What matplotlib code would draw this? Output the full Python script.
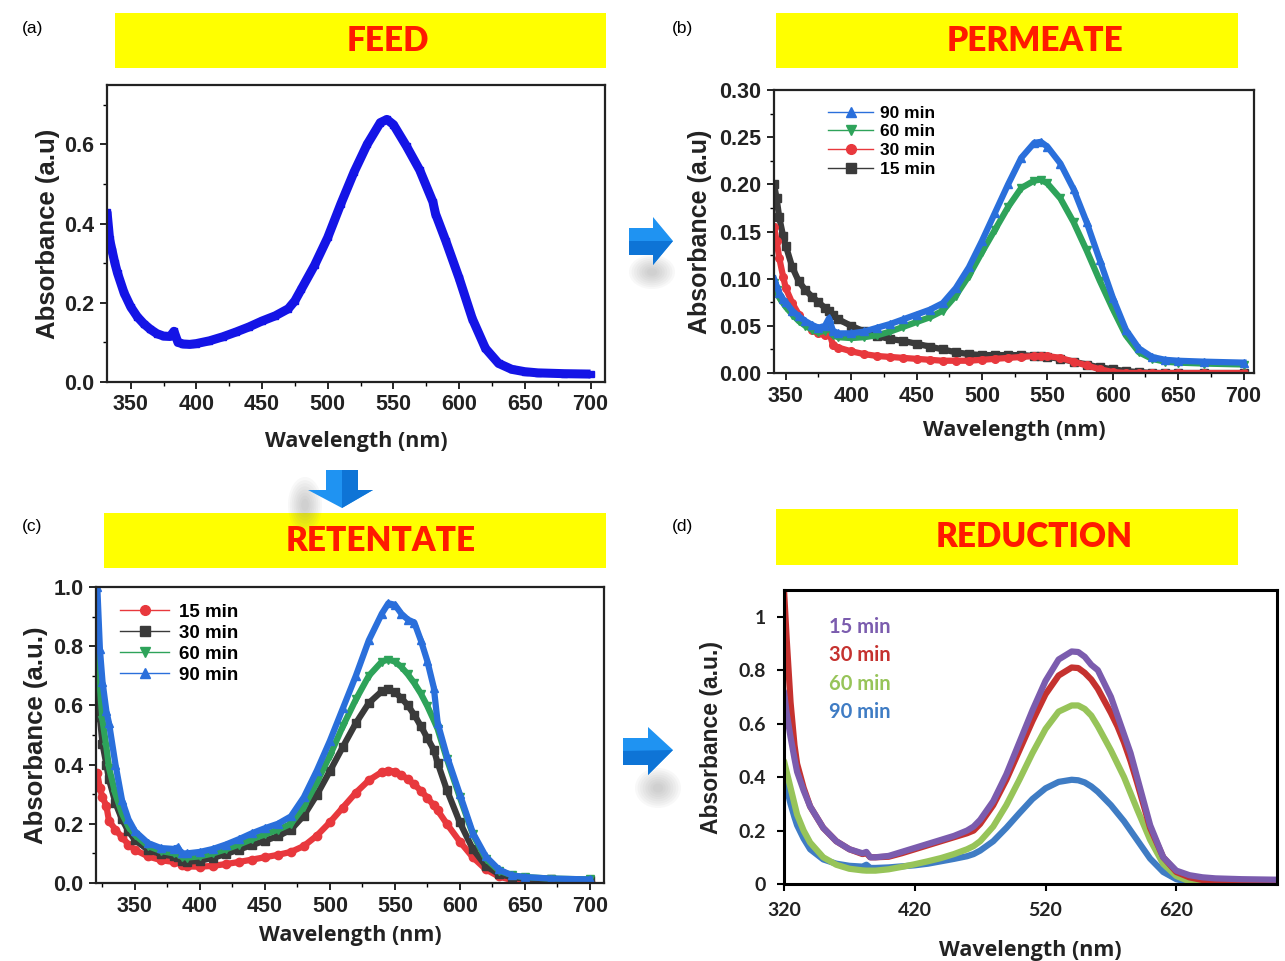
import matplotlib
matplotlib.use("Agg")
import matplotlib.pyplot as plt
from matplotlib.patches import Polygon, Rectangle, Ellipse
from matplotlib.lines import Line2D
from matplotlib.ticker import MultipleLocator, FormatStrFormatter, FuncFormatter
from matplotlib.transforms import Affine2D

# ---- UV-vis spectra (wavelength in nm, absorbance in a.u.) ----
# (a) feed
wl_feed = [332, 334, 336, 338, 340, 345, 350, 355, 360, 365, 370, 375, 380,
           383, 386, 390, 395, 400, 410, 420, 430, 440, 450, 460, 470, 475,
           480, 490, 500, 510, 520, 530, 540, 545, 550, 560, 570, 580, 582,
           590, 600, 610, 620, 630, 640, 650, 660, 680, 700]
abs_feed = [0.43, 0.36, 0.33, 0.30, 0.275, 0.225, 0.19, 0.165, 0.147, 0.133,
            0.122, 0.116, 0.115, 0.128, 0.100, 0.096, 0.095, 0.097, 0.104,
            0.114, 0.126, 0.139, 0.154, 0.167, 0.185, 0.205, 0.235, 0.295,
            0.365, 0.450, 0.530, 0.600, 0.655, 0.663, 0.650, 0.595, 0.535,
            0.455, 0.425, 0.355, 0.262, 0.160, 0.085, 0.047, 0.032, 0.026,
            0.023, 0.021, 0.020]

# (b) permeate
wl_perm = [341, 343, 345, 348, 350, 355, 360, 365, 370, 375, 380, 383, 386,
           390, 400, 410, 420, 430, 440, 450, 460, 470, 480, 490, 500, 510,
           520, 530, 540, 545, 550, 560, 570, 580, 590, 600, 610, 620, 630,
           640, 650, 670, 700]
perm_90 = [0.100, 0.092, 0.085, 0.078, 0.075, 0.066, 0.060, 0.055, 0.051,
           0.048, 0.050, 0.058, 0.045, 0.042, 0.042, 0.044, 0.048, 0.052,
           0.057, 0.062, 0.067, 0.074, 0.090, 0.112, 0.140, 0.170, 0.200,
           0.228, 0.244, 0.245, 0.240, 0.222, 0.195, 0.160, 0.120, 0.080,
           0.046, 0.026, 0.017, 0.014, 0.013, 0.012, 0.011]
perm_60 = [0.095, 0.088, 0.080, 0.074, 0.070, 0.062, 0.055, 0.050, 0.046,
           0.043, 0.045, 0.050, 0.040, 0.038, 0.037, 0.038, 0.040, 0.044,
           0.049, 0.054, 0.059, 0.066, 0.082, 0.103, 0.128, 0.152, 0.176,
           0.196, 0.204, 0.205, 0.201, 0.185, 0.160, 0.130, 0.098, 0.068,
           0.040, 0.022, 0.015, 0.012, 0.011, 0.010, 0.009]
perm_30 = [0.155, 0.140, 0.122, 0.102, 0.090, 0.074, 0.062, 0.053, 0.046,
           0.042, 0.040, 0.044, 0.030, 0.027, 0.023, 0.020, 0.018, 0.017,
           0.016, 0.015, 0.014, 0.013, 0.013, 0.013, 0.014, 0.015, 0.016,
           0.017, 0.018, 0.018, 0.018, 0.016, 0.012, 0.008, 0.004, 0.001,
           0.0, 0.0, 0.0, 0.0, 0.0, 0.0, 0.0]
perm_15 = [0.200, 0.185, 0.165, 0.145, 0.135, 0.112, 0.097, 0.088, 0.081,
           0.075, 0.069, 0.066, 0.062, 0.057, 0.050, 0.044, 0.039, 0.036,
           0.034, 0.031, 0.028, 0.025, 0.022, 0.020, 0.019, 0.019, 0.019,
           0.019, 0.018, 0.018, 0.017, 0.015, 0.012, 0.009, 0.006, 0.004,
           0.002, 0.001, 0.0, 0.0, 0.0, 0.0, 0.0]

# (c) retentate
wl_ret = [321, 323, 325, 328, 330, 335, 340, 345, 350, 360, 370, 380, 383,
          386, 390, 400, 410, 420, 430, 440, 450, 460, 470, 480, 490, 500,
          510, 520, 530, 540, 545, 550, 555, 560, 565, 570, 575, 580, 583,
          590, 600, 610, 620, 630, 640, 650, 670, 700]
ret_15 = [0.37, 0.32, 0.29, 0.26, 0.21, 0.18, 0.155, 0.13, 0.112, 0.090,
          0.077, 0.071, 0.075, 0.060, 0.056, 0.055, 0.058, 0.064, 0.071,
          0.079, 0.087, 0.095, 0.105, 0.125, 0.160, 0.205, 0.255, 0.305,
          0.347, 0.375, 0.380, 0.376, 0.366, 0.350, 0.333, 0.312, 0.288,
          0.262, 0.245, 0.200, 0.140, 0.087, 0.046, 0.022, 0.010, 0.005,
          0.003, 0.002]
ret_30 = [0.70, 0.56, 0.47, 0.40, 0.35, 0.27, 0.215, 0.175, 0.145, 0.112,
          0.097, 0.090, 0.088, 0.075, 0.072, 0.075, 0.085, 0.098, 0.113,
          0.128, 0.143, 0.158, 0.180, 0.228, 0.298, 0.378, 0.460, 0.540,
          0.608, 0.648, 0.655, 0.645, 0.625, 0.600, 0.568, 0.530, 0.490,
          0.450, 0.405, 0.315, 0.205, 0.115, 0.058, 0.030, 0.020, 0.015,
          0.012, 0.010]
ret_60 = [0.76, 0.66, 0.55, 0.46, 0.39, 0.30, 0.235, 0.19, 0.162, 0.125,
          0.108, 0.100, 0.097, 0.088, 0.086, 0.090, 0.100, 0.114, 0.130,
          0.148, 0.164, 0.180, 0.200, 0.258, 0.340, 0.430, 0.530, 0.620,
          0.700, 0.748, 0.755, 0.748, 0.730, 0.705, 0.675, 0.640, 0.598,
          0.550, 0.520, 0.420, 0.290, 0.165, 0.082, 0.042, 0.026, 0.020,
          0.015, 0.012]
ret_90 = [1.00, 0.79, 0.68, 0.58, 0.54, 0.40, 0.28, 0.215, 0.175, 0.135,
          0.118, 0.115, 0.120, 0.100, 0.100, 0.105, 0.115, 0.130, 0.148,
          0.168, 0.185, 0.200, 0.225, 0.290, 0.380, 0.480, 0.590, 0.700,
          0.820, 0.910, 0.945, 0.940, 0.910, 0.890, 0.880, 0.820, 0.750,
          0.660, 0.540, 0.430, 0.300, 0.170, 0.090, 0.046, 0.026, 0.020,
          0.015, 0.012]

# (d) reduction
wl_red = [320, 322, 325, 328, 330, 335, 340, 350, 360, 370, 380, 383, 386,
          390, 400, 410, 420, 430, 440, 450, 460, 465, 470, 480, 490, 500,
          510, 520, 530, 540, 545, 550, 555, 560, 570, 575, 580, 585, 590,
          600, 610, 620, 630, 640, 650, 670, 697]
red_15 = [0.72, 0.64, 0.55, 0.47, 0.42, 0.35, 0.29, 0.21, 0.16, 0.13, 0.115,
          0.12, 0.10, 0.10, 0.105, 0.12, 0.135, 0.15, 0.165, 0.18, 0.20,
          0.215, 0.24, 0.31, 0.41, 0.53, 0.65, 0.76, 0.84, 0.87, 0.868,
          0.85, 0.82, 0.80, 0.70, 0.63, 0.56, 0.49, 0.40, 0.22, 0.10, 0.05,
          0.033, 0.025, 0.021, 0.018, 0.016]
red_30 = [1.10, 0.92, 0.68, 0.52, 0.45, 0.36, 0.29, 0.21, 0.16, 0.13, 0.112,
          0.115, 0.10, 0.10, 0.102, 0.115, 0.13, 0.145, 0.16, 0.175, 0.19,
          0.20, 0.225, 0.295, 0.39, 0.50, 0.61, 0.71, 0.78, 0.81, 0.808,
          0.79, 0.765, 0.73, 0.64, 0.59, 0.53, 0.46, 0.38, 0.21, 0.10, 0.045,
          0.025, 0.015, 0.011, 0.009, 0.008]
red_60 = [0.46, 0.42, 0.36, 0.30, 0.26, 0.20, 0.155, 0.10, 0.072, 0.057,
          0.051, 0.05, 0.05, 0.05, 0.055, 0.064, 0.074, 0.085, 0.097, 0.112,
          0.13, 0.142, 0.16, 0.215, 0.295, 0.39, 0.49, 0.58, 0.645, 0.668,
          0.668, 0.655, 0.63, 0.59, 0.50, 0.45, 0.40, 0.34, 0.28, 0.165,
          0.075, 0.03, 0.01, 0.003, 0.0, 0.0, 0.0]
red_90 = [0.40, 0.36, 0.30, 0.25, 0.22, 0.17, 0.13, 0.092, 0.076, 0.068,
          0.065, 0.072, 0.06, 0.06, 0.062, 0.066, 0.07, 0.076, 0.085, 0.094,
          0.104, 0.112, 0.125, 0.16, 0.21, 0.265, 0.318, 0.358, 0.382, 0.39,
          0.388, 0.38, 0.365, 0.345, 0.295, 0.265, 0.235, 0.20, 0.165, 0.095,
          0.045, 0.018, 0.006, 0.001, 0.0, 0.0, 0.0]

W, H = 1285, 961
SANS = "Liberation Sans"


def box(l, t, r, b):
    """pixel box (left, top, right, bottom) -> figure fraction rect"""
    return [l / W, 1 - b / H, (r - l) / W, (b - t) / H]


fig = plt.figure(figsize=(W / 100, H / 100), dpi=100)
fig.patch.set_facecolor("white")
# pixel coordinates measured from the top-left corner
px = Affine2D().scale(1 / W, -1 / H).translate(0, 1) + fig.transFigure


def origin_style(ax, xlim, ylim, xmin, ymaj, ymin, yfmt):
    ax.set_xlim(*xlim)
    ax.set_ylim(*ylim)
    ax.xaxis.set_major_locator(MultipleLocator(50))
    ax.xaxis.set_minor_locator(MultipleLocator(xmin))
    ax.yaxis.set_major_locator(MultipleLocator(ymaj))
    ax.yaxis.set_minor_locator(MultipleLocator(ymin))
    ax.yaxis.set_major_formatter(FormatStrFormatter(yfmt))
    ax.tick_params(which="major", direction="out", length=5, width=1.2,
                   labelsize=15.5, pad=4, labelcolor="#222222")
    ax.tick_params(which="minor", direction="out", length=3, width=1.0)
    for lab in ax.get_xticklabels() + ax.get_yticklabels():
        lab.set_fontweight("bold")
        lab.set_family(SANS)
    for sp in ax.spines.values():
        sp.set_linewidth(1.6)
        sp.set_color("#222222")


def banner(l, t, r, b, text, cx, cy):
    fig.add_artist(Rectangle((l, t), r - l, b - t, transform=px,
                             facecolor="#ffff00", edgecolor="none"))
    fig.text(cx / W, 1 - cy / H, text, ha="center", va="center",
             color="#ff1a00", fontsize=24, fontweight="heavy", family="Lato")


def shadow(cx, cy, w, h):
    for k in range(8):
        f = 1 - k / 9
        fig.add_artist(Ellipse((cx, cy), w * f, h * f, transform=px,
                               facecolor="#7f7f7f", edgecolor="none",
                               alpha=0.05))


def arrow(pts, dark):
    fig.add_artist(Polygon(pts, closed=True, transform=px,
                           facecolor="#1f93f2", edgecolor="none"))
    fig.add_artist(Polygon(dark, closed=True, transform=px,
                           facecolor="#0e74d6", edgecolor="none"))


def ylab(ax, text, size, pad):
    ax.set_ylabel(text, fontsize=size, fontweight="bold", family=SANS,
                  labelpad=pad, color="#222222")


def xlab(ax, pad):
    ax.set_xlabel("Wavelength (nm)", fontsize=15.5, fontweight="bold",
                  family="Open Sans", labelpad=pad, color="#222222")


# ---- (a) FEED ----
banner(115, 13, 606, 68, "FEED", 388, 41)
axA = fig.add_axes(box(107, 85, 605, 382))
axA.plot(wl_feed, abs_feed, color="#1414e6", lw=6.5, marker="s", ms=5,
         solid_capstyle="butt")
origin_style(axA, (332, 711), (0, 0.75), 25, 0.2, 0.1, "%.1f")
ylab(axA, "Absorbance (a.u)", 18.5, 3)
xlab(axA, 11)

# ---- (b) PERMEATE ----
banner(776, 13, 1238, 68, "PERMEATE", 1035, 41)
axB = fig.add_axes(box(774, 90, 1254, 373))
perm = [("15 min", perm_15, "#3a3a3a", "s"),
        ("30 min", perm_30, "#e8383d", "o"),
        ("60 min", perm_60, "#2ea35a", "v"),
        ("90 min", perm_90, "#2a6fdb", "^")]
for lab, y, c, m in perm:
    axB.plot(wl_perm, y, color=c, lw=4.5, marker=m, ms=5.5, label=lab)
origin_style(axB, (341, 708), (0, 0.30), 25, 0.05, 0.025, "%.2f")
ylab(axB, "Absorbance (a.u)", 18, 5)
xlab(axB, 10)
hb = [Line2D([], [], color=c, lw=1, marker=m, ms=7) for _, _, c, m in perm]
axB.legend(hb[::-1], [p[0] for p in perm][::-1], loc="upper left",
           bbox_to_anchor=(0.08, 1.0), frameon=False, handlelength=2.6,
           labelspacing=0.2, handletextpad=0.4,
           prop={"family": SANS, "weight": "bold", "size": 12.5})

# ---- (c) RETENTATE ----
banner(104, 513, 606, 568, "RETENTATE", 381, 541)
axC = fig.add_axes(box(96, 587, 604, 883))
ret = [("15 min", ret_15, "#e8383d", "o"),
       ("30 min", ret_30, "#3a3a3a", "s"),
       ("60 min", ret_60, "#2ea35a", "v"),
       ("90 min", ret_90, "#2a6fdb", "^")]
for lab, y, c, m in ret:
    axC.plot(wl_ret, y, color=c, lw=4.5, marker=m, ms=6, label=lab)
origin_style(axC, (320, 711), (0, 1.0), 25, 0.2, 0.1, "%.1f")
ylab(axC, "Absorbance (a.u.)", 18.5, 4)
xlab(axC, 6)
hc = [Line2D([], [], color=c, lw=1, marker=m, ms=7) for _, _, c, m in ret]
axC.legend(hc, [p[0] for p in ret], loc="upper left",
           bbox_to_anchor=(0.015, 1.0), frameon=False, handlelength=2.6,
           labelspacing=0.2, handletextpad=0.5,
           prop={"family": SANS, "weight": "bold", "size": 13.5})

# ---- (d) REDUCTION ----
banner(776, 509, 1238, 565, "REDUCTION", 1034, 537)
axD = fig.add_axes(box(784, 590, 1277, 884))
red = [("90 min", red_90, "#3f7cc4"),
       ("60 min", red_60, "#97c459"),
       ("30 min", red_30, "#c5322f"),
       ("15 min", red_15, "#7b5cae")]
for lab, y, c in red:
    axD.plot(wl_red, y, color=c, lw=4.5, label=lab, solid_capstyle="round")
axD.set_xlim(320, 697)
axD.set_ylim(0, 1.1)
axD.set_xticks([320, 420, 520, 620])
axD.set_yticks([0, 0.2, 0.4, 0.6, 0.8, 1.0])
axD.yaxis.set_major_formatter(FuncFormatter(lambda v, _: f"{v:g}"))
axD.tick_params(direction="out", length=5, width=1.5, labelsize=14, pad=8,
                labelcolor="#222222")
for lab in axD.get_xticklabels() + axD.get_yticklabels():
    lab.set_family("Lato")
    lab.set_fontweight("bold")
for sp in axD.spines.values():
    sp.set_linewidth(2.2)
    sp.set_color("black")
ylab(axD, "Absorbance (a.u.)", 16.5, 11)
xlab(axD, 15)
hd, ld = axD.get_legend_handles_labels()
legD = axD.legend(hd[::-1], ld[::-1], loc="upper left",
                  bbox_to_anchor=(0.055, 0.97), frameon=False,
                  handlelength=0, handletextpad=0, labelspacing=0.42,
                  labelcolor="linecolor",
                  prop={"family": "Lato", "weight": "bold", "size": 14.5})
for h in legD.legend_handles:
    h.set_visible(False)

# ---- panel letters ----
for (x, y), s in zip([(22, 28), (672, 28), (22, 527), (672, 527)],
                     ["(a)", "(b)", "(c)", "(d)"]):
    fig.text(x / W, 1 - y / H, s, ha="left", va="center", fontsize=12.5,
             family=SANS)

# ---- flow arrows between panels ----
shadow(652, 272, 46, 34)
arrow([(629, 228), (653, 228), (653, 217), (673, 241), (653, 265),
       (653, 255), (629, 255)],
      [(629, 241), (673, 241), (653, 265), (653, 255), (629, 255)])
shadow(305, 505, 34, 56)
arrow([(326, 470), (358, 470), (358, 490), (373, 490), (342, 508),
       (308, 490), (326, 490)],
      [(342, 470), (358, 470), (358, 490), (373, 490), (342, 508)])
shadow(658, 788, 46, 40)
arrow([(623, 738), (648, 738), (648, 727), (673, 750), (648, 775),
       (648, 765), (623, 765)],
      [(623, 751), (673, 750), (648, 775), (648, 765), (623, 765)])

fig.savefig("out.png", dpi=100)
